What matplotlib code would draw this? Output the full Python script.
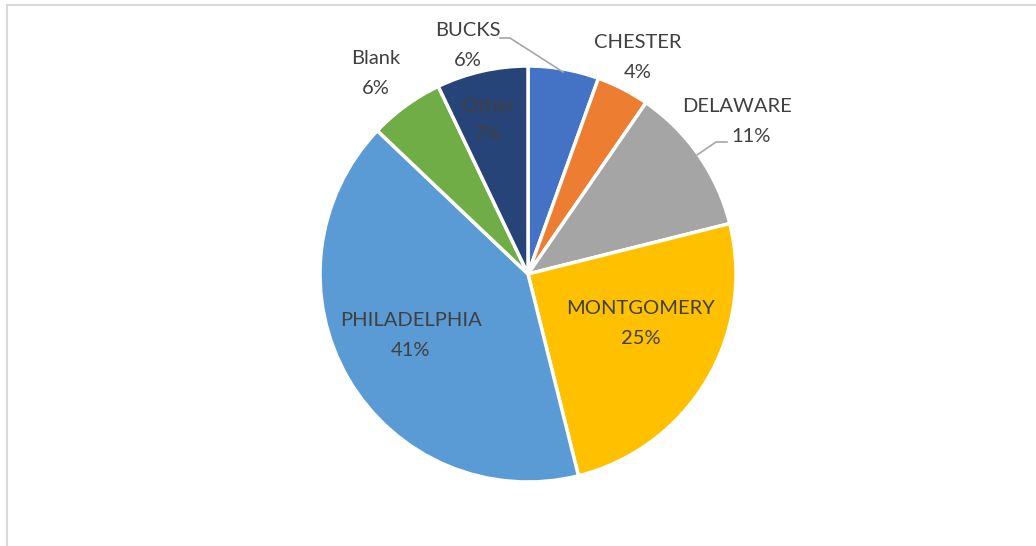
import matplotlib.pyplot as plt
from matplotlib.patches import Rectangle

counties = ["BUCKS", "CHESTER", "DELAWARE", "MONTGOMERY", "PHILADELPHIA", "Blank", "Other"]
shares = [5.5, 4.1, 11.5, 25.0, 41.0, 5.8, 7.1]
pct_labels = ["6%", "4%", "11%", "25%", "41%", "6%", "7%"]
colors = ["#4472C4", "#ED7D31", "#A5A5A5", "#FFC000", "#5B9BD5", "#70AD47", "#264478"]

W, H = 1036, 546
fig = plt.figure(figsize=(W / 100, H / 100), dpi=100)
ax = fig.add_axes([0, 0, 1, 1])

ax.pie(shares, colors=colors, startangle=90, counterclock=False,
       center=(528, H - 274), radius=208, frame=True,
       wedgeprops=dict(edgecolor="white", linewidth=2.5))
ax.set_xlim(0, W)
ax.set_ylim(0, H)
ax.set_aspect("equal")
ax.axis("off")

# label positions in pixel coords (name line, percent line)
label_pos = [
    ((468, 31), (468, 60)),
    ((638, 43), (638, 72)),
    ((737, 106), (751, 137)),
    ((641, 308), (641, 338)),
    ((411, 321), (411, 350)),
    ((376, 59), (376, 88)),
    ((488, 106), (488, 134)),
]
txt = "#404040"
for name, pct, (p1, p2) in zip(counties, pct_labels, label_pos):
    ax.text(p1[0], H - p1[1], name, ha="center", va="center",
            fontsize=14.5, color=txt, family="Lato")
    ax.text(p2[0], H - p2[1], pct, ha="center", va="center",
            fontsize=14.5, color=txt, family="Lato")

# leader lines
ax.plot([500, 510, 563], [H - 38, H - 38, H - 72], color="#A6A6A6", lw=1.2)
ax.plot([727, 716, 697], [H - 142, H - 142, H - 155], color="#A6A6A6", lw=1.2)

# chart border
fig.patches.append(Rectangle((7 / W, -0.1), 1.2, (H - 5) / H + 0.1, transform=fig.transFigure,
                             fill=False, edgecolor="#D9D9D9", lw=1.5))

fig.savefig("out.png", dpi=100)
